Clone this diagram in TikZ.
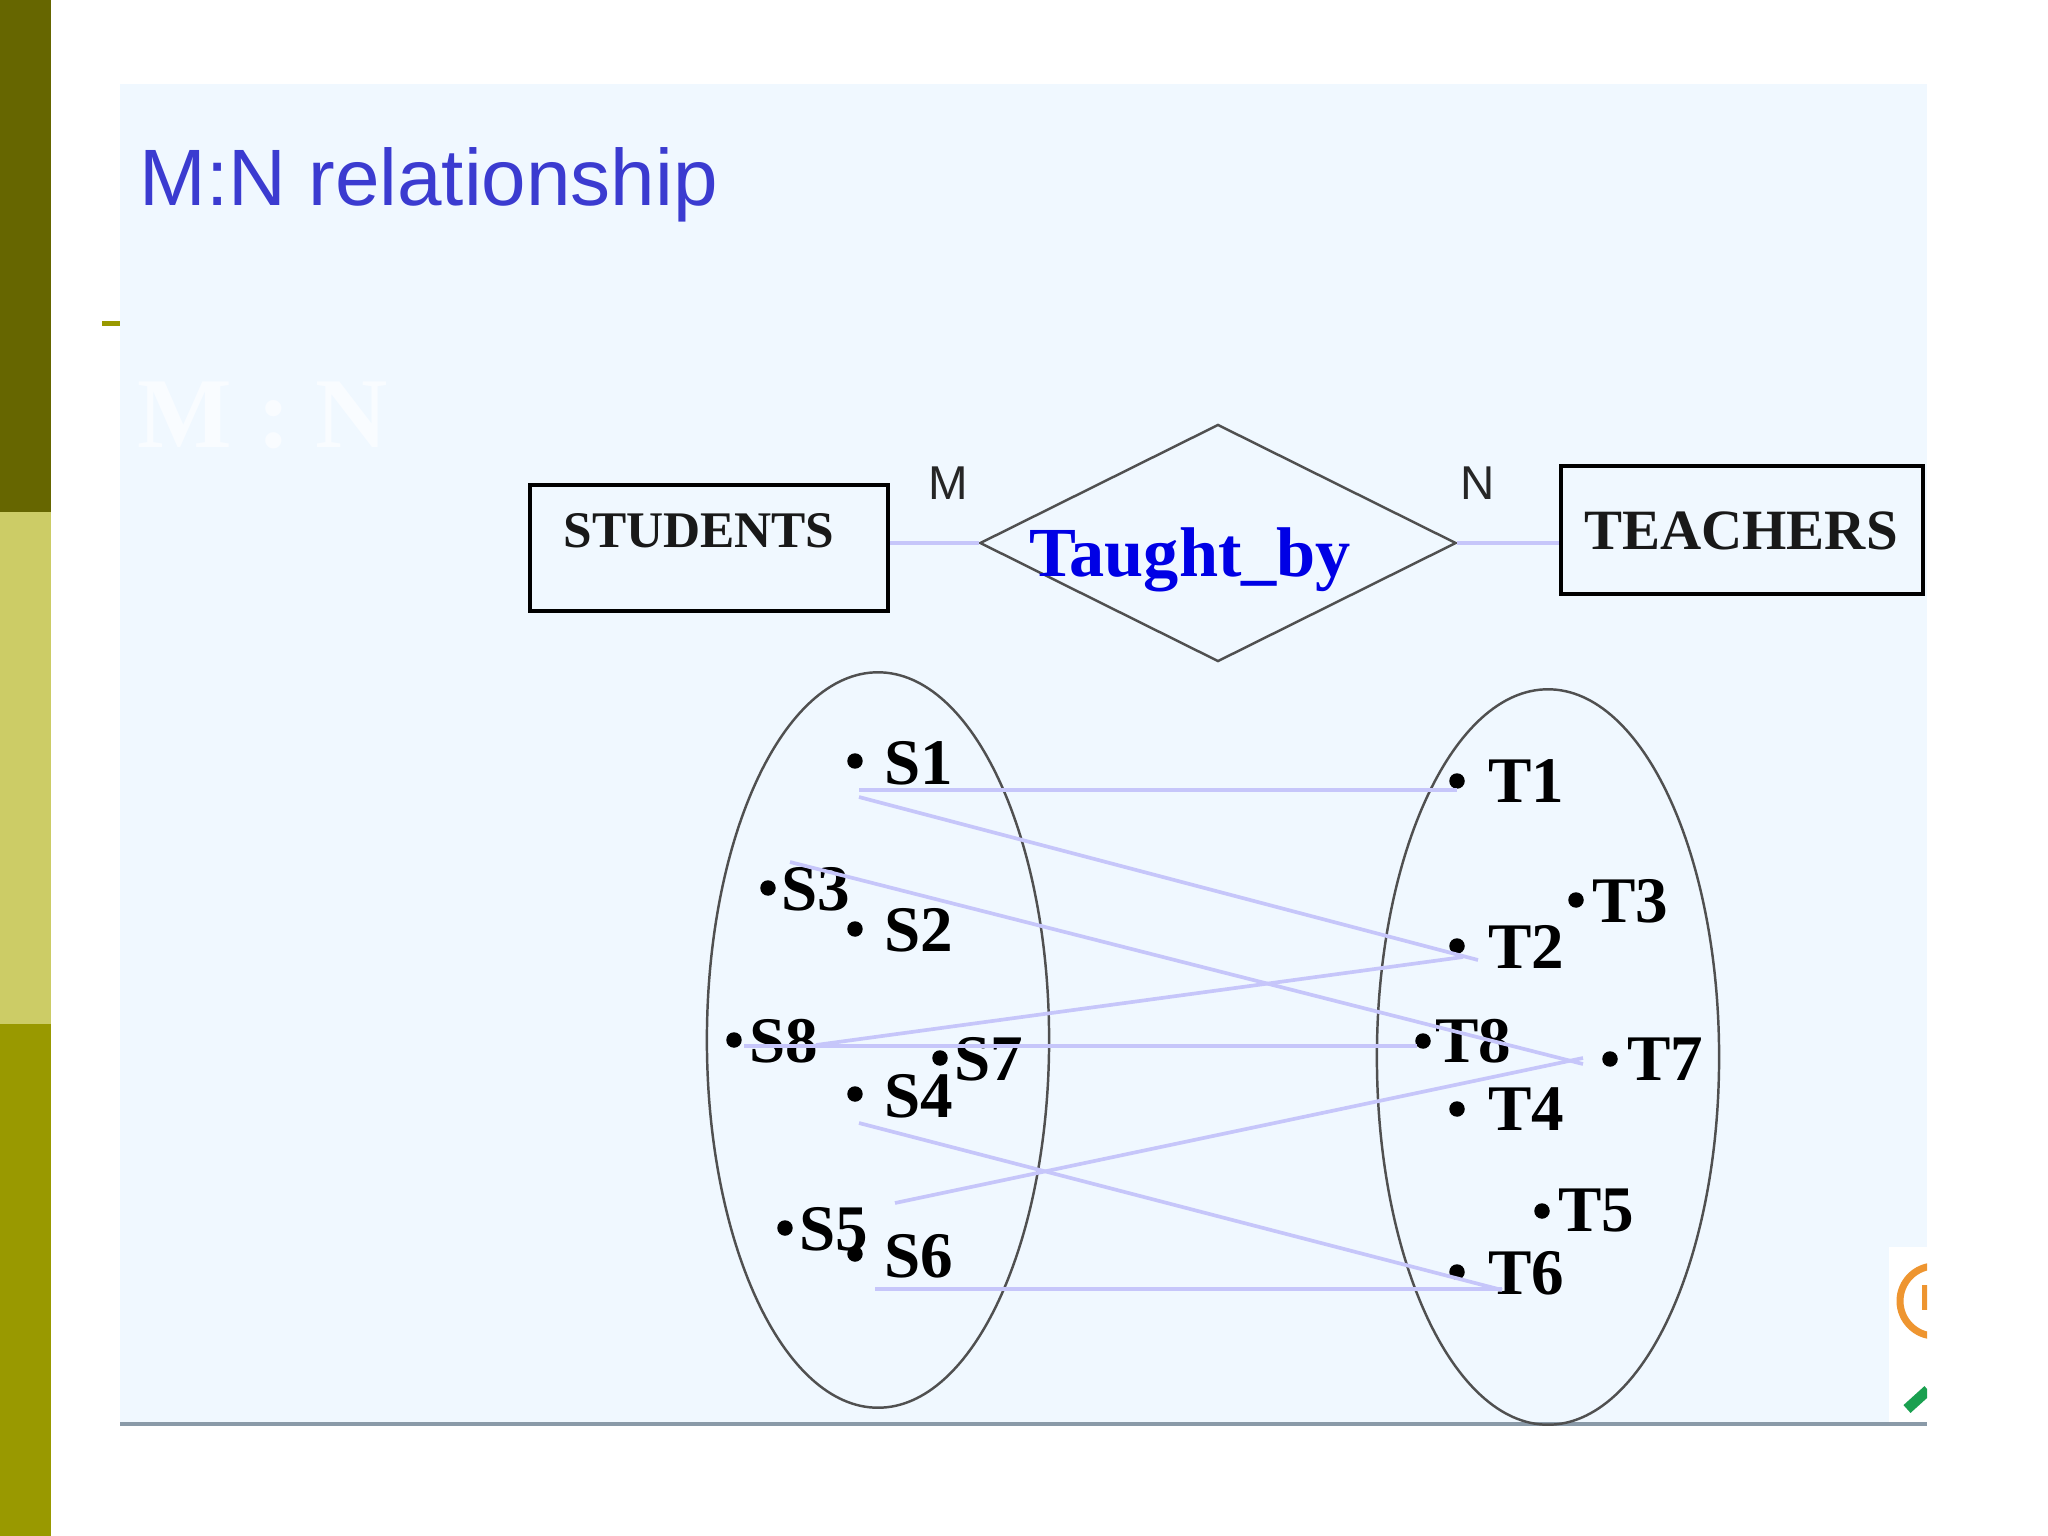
\documentclass[tikz,border=0pt]{standalone}
\usepackage{fontspec}
\setmainfont{Liberation Serif}
\setsansfont{Liberation Sans}
\definecolor{mDark}{HTML}{666600}
\definecolor{mPale}{HTML}{CCCC66}
\definecolor{mOlive}{HTML}{999900}
\definecolor{mPanel}{HTML}{F0F8FF}
\definecolor{mTitle}{HTML}{3B3BD0}
\definecolor{mLink}{HTML}{C6C6FA}
\definecolor{mEdge}{HTML}{505050}
\definecolor{mRule}{HTML}{8A9AA8}
\definecolor{mRing}{HTML}{EE9530}
\definecolor{mLeaf}{HTML}{1AA050}
\usetikzlibrary{positioning, shapes.geometric}

\begin{document}
\begin{tikzpicture}[x=0.01cm, y=-0.01cm,
  entity/.style={draw=black, line width=1pt, fill=none, inner sep=0pt},
  entitytext/.style={font=\bfseries, text=black!90, inner sep=0pt},
  relation/.style={diamond, draw=mEdge, line width=0.7pt, inner sep=0pt,
              minimum width=4.76cm, minimum height=2.37cm},
  card/.style={font=\sffamily\fontsize{13.5}{15}\selectfont, text=black!85, inner sep=0pt},
  setshape/.style={ellipse, draw=mEdge, line width=0.7pt, inner sep=0pt,
              minimum width=3.42cm, minimum height=7.35cm},
  dot/.style={circle, fill=black, inner sep=0pt, minimum size=4.4pt},
  item/.style={font=\bfseries\fontsize{18.5}{20}\selectfont, inner sep=0pt},
  link/.style={draw=mLink, line width=1.05pt}]

  \useasboundingbox (0,0) rectangle (2048,1536);

  % side bar and panel
  \fill[mDark]  (0,0)    rectangle (51,512);
  \fill[mPale]  (0,512)  rectangle (51,1024);
  \fill[mOlive] (0,1024) rectangle (51,1536);
  \fill[mPanel] (120,84) rectangle (1927,1423);
  \fill[mOlive] (102,321) rectangle (120,326);
  \fill[mRule] (120,1422) rectangle (1927,1426);

  % corner of a logo
  \fill[white] (1889,1247) rectangle (1927,1422);
  \begin{scope}
    \clip (1889,1247) rectangle (1927,1422);
    \draw[mRing, line width=2pt] (1935,1301) circle [radius=35];
    \draw[mRing, line width=2pt] (1925,1285) -- (1925,1310);
    \draw[mLeaf, line width=3pt] (1907,1409) -- (1928,1390);
  \end{scope}

  \node[font=\sffamily\fontsize{22.75}{25}\selectfont, text=mTitle, anchor=west, inner sep=0pt] (title) at (139,185) {M:N relationship};
  \node[font=\bfseries\fontsize{28.5}{30}\selectfont, text=white, anchor=west, inner sep=0pt, opacity=0.6] (ghost) at (137,415) {M : N};

  \node[entity, minimum width=3.58cm, minimum height=1.26cm] (students) at (709,548) {};
  \node[entity, minimum width=3.62cm, minimum height=1.28cm] (teachers) at (1742,530) {};
  \node[entitytext, font=\bfseries\fontsize{14.6}{16}\selectfont] (studentsname) at (699,531) {STUDENTS};
  \node[entitytext, font=\bfseries\fontsize{16.2}{18}\selectfont] (teachersname) at (1741,531) {TEACHERS};
  \node[relation] (rel) at (1218,543) {};
  \node[font=\bfseries\fontsize{20}{22}\selectfont, text=blue!90!black, inner sep=0pt] (relname) at (1190,560) {Taught\_by};
  \node[card] (cardm) at (948,483) {M};
  \node[card] (cardn) at (1478,483) {N};

  \draw[link] (students.east |- rel.west) -- (rel.west);
  \draw[link] (rel.east) -- (teachers.west |- rel.east);

  \node[setshape] (setS) at (878,1040) {};
  \node[setshape] (setT) at (1548,1057) {};

  % members, dot then label
  \foreach \n/\x/\y/\lx/\ly in {S1/855/761/919/763, S3/768/888/816/889, S2/855/929/919/930,
      S8/734/1040/784/1041, S7/940/1058/989/1059, S4/855/1094/919/1096,
      S5/785/1228/834/1229, S6/855/1254/919/1256,
      T1/1457/781/1526/781, T3/1576/900/1630/901, T2/1457/946/1526/947,
      T8/1423/1041/1473/1041, T7/1610/1059/1665/1059, T4/1457/1109/1526/1109,
      T5/1542/1211/1596/1211, T6/1457/1272/1526/1273}{
    \node[dot] (dot\n) at (\x,\y) {};
    \node[item] (lab\n) at (\lx,\ly) {\n};
  }

  % link ends
  \coordinate (a1) at (859,790);  \coordinate (b1) at (1457,790);
  \coordinate (a2) at (859,797);  \coordinate (b2) at (1478,960);
  \coordinate (a3) at (790,862);  \coordinate (b3) at (1583,1064);
  \coordinate (a4) at (816,1045); \coordinate (b4) at (1463,957);
  \coordinate (a5) at (744,1046); \coordinate (b5) at (1417,1046);
  \coordinate (a6) at (895,1203); \coordinate (b6) at (1583,1058);
  \coordinate (a7) at (859,1123); \coordinate (b7) at (1502,1290);
  \coordinate (a8) at (875,1289); \coordinate (b8) at (1502,1289);
  \foreach \i in {1,...,8}{
    \draw[link] (a\i) -- (b\i);}
\end{tikzpicture}
\end{document}
